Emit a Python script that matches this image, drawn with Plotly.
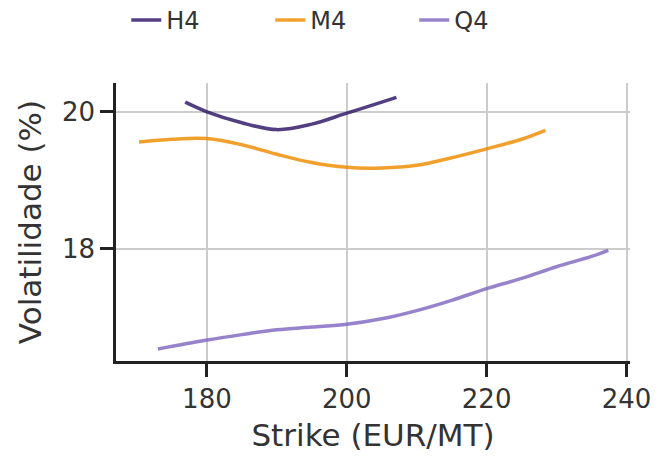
import plotly.graph_objects as go

h4_strike = [176.9, 180, 185, 190, 195, 200, 205, 207.1]
h4_vol = [20.14, 20.00, 19.84, 19.74, 19.82, 19.98, 20.14, 20.21]

m4_strike = [170.3, 175, 180, 185, 190, 195, 200, 205, 210, 215, 220, 225, 228.4]
m4_vol = [19.56, 19.60, 19.61, 19.52, 19.38, 19.26, 19.19, 19.18, 19.22, 19.33, 19.46, 19.60, 19.73]

q4_strike = [173.0, 180, 185, 190, 195, 200, 205, 210, 215, 220, 225, 230, 235, 237.4]
q4_vol = [16.54, 16.67, 16.75, 16.82, 16.86, 16.90, 16.98, 17.10, 17.25, 17.42, 17.57, 17.74, 17.89, 17.98]

series = [
    ("H4", h4_strike, h4_vol, "#2d1566"),
    ("M4", m4_strike, m4_vol, "#f08c00"),
    ("Q4", q4_strike, q4_vol, "#7f68c0"),
]

fig = go.Figure()
for name, xs, ys, col in series:
    fig.add_trace(go.Scatter(x=xs, y=ys, name=name, mode="lines",
                             line=dict(color=col, width=3.5, shape="spline", smoothing=1.0),
                             opacity=0.82))

font = "DejaVu Sans"
fig.update_layout(
    width=659, height=453,
    margin=dict(l=108, r=37, t=75, b=100, autoexpand=False),
    plot_bgcolor="white", paper_bgcolor="white",
    font=dict(family=font, size=26, color="#333333"),
    legend=dict(orientation="h", x=0.02, xanchor="left", y=1.225, yanchor="middle",
                font=dict(size=24),
                entrywidth=99, entrywidthmode="pixels", tracegroupgap=0),
    showlegend=True,
)
fig.update_xaxes(range=[167, 240.5], tickvals=[180, 200, 220, 240],
                 showgrid=True, gridcolor="#cccccc", gridwidth=2,
                 showline=True, linecolor="#222222", linewidth=2.5,
                 ticks="outside", ticklen=13, tickwidth=2.5, tickcolor="#222222",
                 zeroline=False, automargin=False,
                 title=dict(text="Strike (EUR/MT)", font=dict(size=31), standoff=12))
fig.update_yaxes(range=[16.365, 20.42], tickvals=[18, 20],
                 showgrid=True, gridcolor="#cccccc", gridwidth=2,
                 showline=True, linecolor="#222222", linewidth=2.5,
                 ticks="outside", ticklen=13, tickwidth=2.5, tickcolor="#222222",
                 zeroline=False, automargin=False,
                 title=dict(text="Volatilidade (%)", font=dict(size=31), standoff=12))

fig.write_html("out.html")
